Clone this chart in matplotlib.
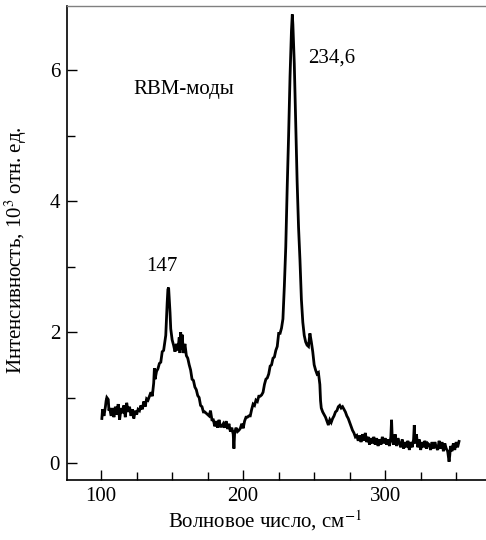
import matplotlib
matplotlib.use("Agg")
import matplotlib.pyplot as plt
from matplotlib.ticker import MultipleLocator

plt.rcParams['font.family'] = ['Liberation Serif', 'DejaVu Serif']
plt.rcParams['mathtext.fontset'] = 'stix'

wavenumber = [
    100.5, 101, 102, 103, 103.5, 104, 105, 105.5, 106, 107, 108, 109, 110, 111, 112, 113, 114, 115,
    116, 117, 118, 119, 120, 121, 122, 123, 124, 125, 126, 127, 128, 129, 130, 131, 132, 133, 134,
    135, 136, 137, 137.5, 138, 139, 140, 141, 142, 143, 144, 145, 145.5, 146, 146.5, 147, 147.5,
    148, 148.5, 149, 150, 151, 152, 153, 154, 155, 155.5, 156, 156.5, 157, 158, 159, 160, 161, 162,
    163, 164, 165, 166, 167, 168, 169, 170, 171, 172, 173, 174, 175, 176, 177, 178, 179, 180, 181,
    182, 183, 184, 185, 186, 187, 188, 189, 190, 191, 192, 193, 193.5, 194, 195, 196, 197, 198, 199,
    200, 201, 202, 203, 204, 205, 206, 207, 208, 209, 210, 211, 212, 213, 214, 215, 216, 217, 218,
    219, 220, 221, 222, 223, 224, 225, 226, 227, 228, 229, 230, 231, 232, 233, 234, 234.6, 235, 236,
    237, 238, 239, 240, 241, 242, 243, 244, 245, 246, 247, 248, 249, 250, 251, 252, 253, 254, 254.5,
    255, 256, 257, 258, 259, 260, 261, 262, 263, 264, 265, 266, 267, 268, 269, 270, 271, 272, 273,
    274, 275, 276, 277, 278, 279, 280, 281, 282, 283, 284, 285, 286, 287, 288, 289, 290, 291, 292,
    293, 294, 295, 296, 297, 298, 299, 300, 301, 302, 303, 304, 304.5, 305, 306, 307, 308, 309, 310,
    311, 312, 313, 314, 315, 316, 317, 318, 319, 320, 320.5, 321, 322, 323, 324, 325, 326, 327, 328,
    329, 330, 331, 332, 333, 334, 335, 336, 337, 338, 339, 340, 341, 342, 343, 344, 345, 345.5, 346,
    347, 348, 349, 350, 351, 352,
]
intensity = [
    0.68, 0.82, 0.72, 0.86, 0.95, 1.00, 0.97, 0.80, 0.84, 0.72, 0.84, 0.70, 0.86, 0.74, 0.90, 0.66, 0.84, 0.76,
    0.88, 0.70, 0.92, 0.78, 0.86, 0.72, 0.82, 0.68, 0.80, 0.74, 0.82, 0.80, 0.88, 0.82, 0.94, 0.86, 0.98, 0.96, 1.02,
    1.08, 1.02, 1.22, 1.45, 1.28, 1.40, 1.44, 1.52, 1.54, 1.70, 1.72, 1.87, 1.95, 2.20, 2.45, 2.65, 2.68,
    2.50, 2.30, 2.05, 1.88, 1.80, 1.70, 1.82, 1.72, 1.92, 1.68, 2.00, 1.74, 1.96, 1.68, 1.82, 1.64, 1.60, 1.50,
    1.42, 1.28, 1.26, 1.16, 1.12, 1.03, 1.00, 0.88, 0.86, 0.78, 0.78, 0.76, 0.74, 0.72, 0.80, 0.66, 0.66, 0.56, 0.64,
    0.54, 0.66, 0.56, 0.56, 0.60, 0.54, 0.64, 0.52, 0.60, 0.48, 0.54, 0.44, 0.22, 0.46, 0.54, 0.48, 0.50, 0.53, 0.60,
    0.53, 0.64, 0.70, 0.70, 0.72, 0.72, 0.82, 0.90, 0.88, 0.96, 0.94, 1.02, 1.02, 1.04, 1.08, 1.20, 1.28, 1.30, 1.36,
    1.48, 1.50, 1.60, 1.62, 1.72, 1.78, 1.98, 1.98, 2.06, 2.20, 2.70, 3.30, 4.20, 5.00, 5.90, 6.60, 6.85, 6.70, 6.10,
    5.20, 4.30, 3.60, 3.10, 2.50, 2.15, 1.95, 1.85, 1.80, 1.78, 1.98, 1.85, 1.70, 1.50, 1.42, 1.36, 1.38, 1.20, 0.95,
    0.84, 0.78, 0.74, 0.70, 0.64, 0.58, 0.66, 0.62, 0.68, 0.72, 0.78, 0.80, 0.86, 0.88, 0.84, 0.86, 0.82, 0.78, 0.72,
    0.68, 0.62, 0.56, 0.50, 0.46, 0.40, 0.42, 0.34, 0.42, 0.32, 0.44, 0.34, 0.46, 0.32, 0.40, 0.28, 0.38, 0.30, 0.40,
    0.28, 0.38, 0.26, 0.36, 0.28, 0.40, 0.30, 0.38, 0.28, 0.36, 0.26, 0.40, 0.66, 0.36, 0.28, 0.44, 0.26, 0.38, 0.30,
    0.24, 0.36, 0.22, 0.32, 0.24, 0.34, 0.20, 0.32, 0.24, 0.36, 0.58, 0.30, 0.44, 0.24, 0.36, 0.20, 0.32, 0.24, 0.34,
    0.22, 0.30, 0.28, 0.20, 0.32, 0.22, 0.32, 0.24, 0.20, 0.34, 0.22, 0.32, 0.18, 0.30, 0.22, 0.18, 0.02, 0.12, 0.26,
    0.18, 0.30, 0.20, 0.32, 0.24, 0.33,
]

x_ticks = [100, 200, 300]
y_ticks = [0, 2, 4, 6]

fig = plt.figure(figsize=(4.86, 5.4), dpi=100)
ax = fig.add_axes([0.138, 0.111, 0.862, 0.878])
ax.plot(wavenumber, intensity, color='black', lw=2.0, solid_joinstyle='miter')

ax.set_xlim(76, 371)
ax.set_ylim(-0.26, 6.98)
ax.set_xticks(x_ticks)
ax.set_yticks(y_ticks)
ax.xaxis.set_minor_locator(MultipleLocator(25))
ax.yaxis.set_minor_locator(MultipleLocator(1))
ax.tick_params(which='both', direction='in', labelsize=15, width=1.0, pad=5)
ax.tick_params(which='major', length=7)
ax.tick_params(which='minor', length=6)
ax.tick_params(axis='x', which='both', top=False)
ax.tick_params(axis='y', which='both', right=False)

ax.spines['right'].set_visible(False)
ax.spines['top'].set_color('#808080')
ax.spines['top'].set_linewidth(1.0)
ax.spines['left'].set_linewidth(1.2)
ax.spines['bottom'].set_linewidth(1.2)

ax.set_xlabel('Волновое число, см$^{-1}$', fontsize=15)
ax.xaxis.set_label_coords(0.473, -0.06, transform=ax.transAxes)
ax.xaxis.label.set_va('top')
ax.set_ylabel('Интенсивность, 10$^{3}$ отн. ед.', fontsize=15)
ax.yaxis.set_label_coords(-0.09, 0.485)

ax.text(122.5, 5.7, 'RBM-моды', fontsize=15, ha='left', va='center')
ax.text(143, 3.0, '147', fontsize=15, ha='center', va='center')
ax.text(262, 6.18, '234,6', fontsize=15, ha='center', va='center')

fig.savefig('out.png', dpi=100)
